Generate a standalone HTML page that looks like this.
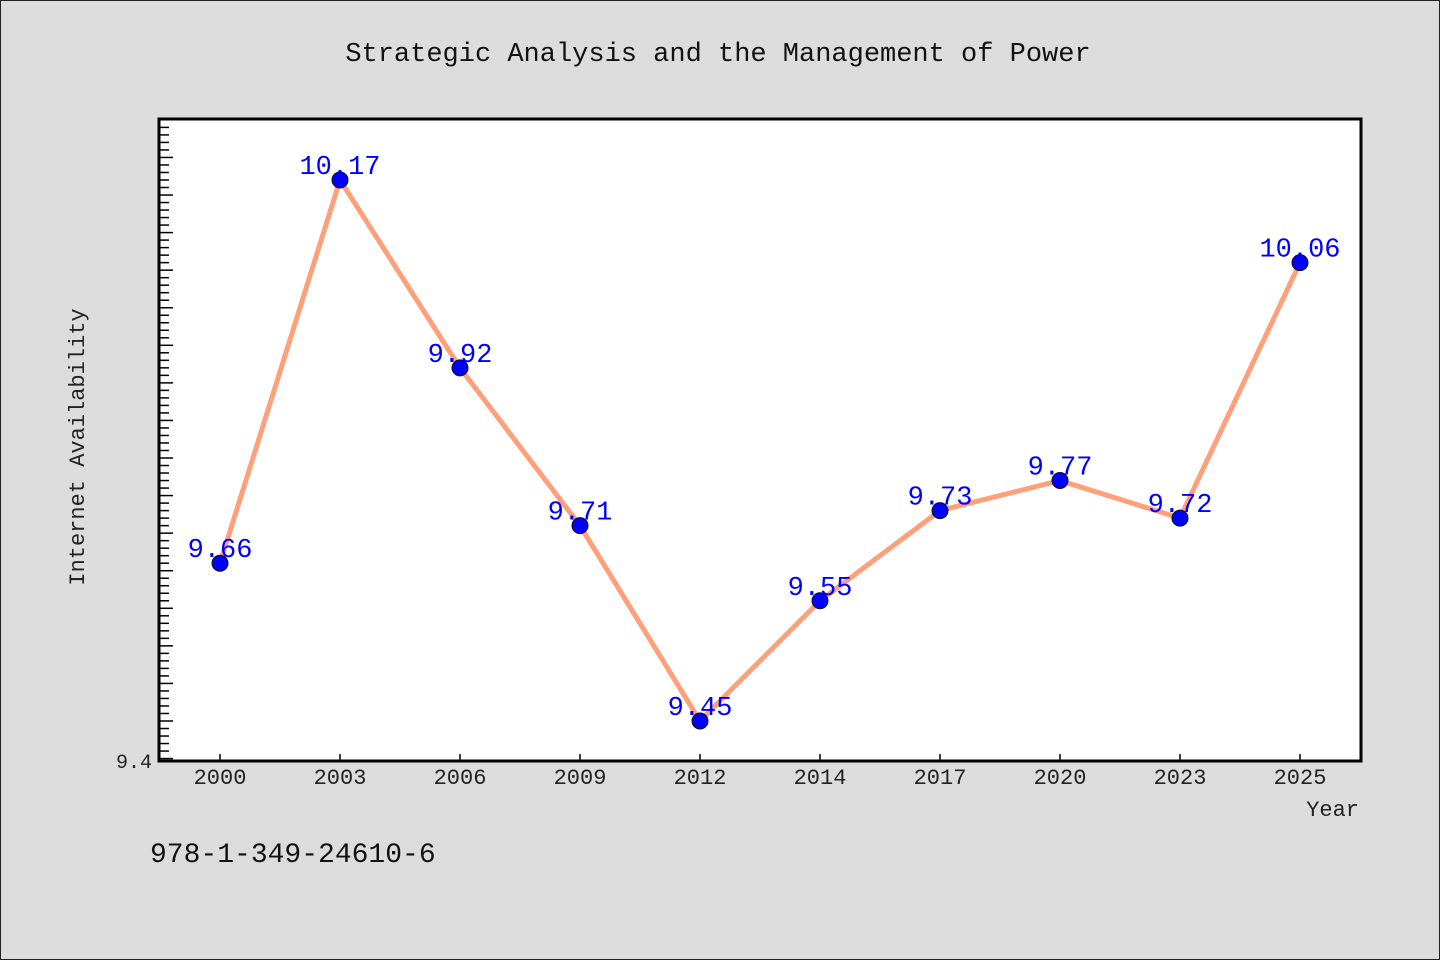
<!DOCTYPE html>
<html><head><meta charset="utf-8"><style>
body{margin:0;background:#dcdcdc}
svg{display:block}
text{font-family:"WenQuanYi Zen Hei","Liberation Mono",monospace}
</style></head><body>
<svg id="chart" width="1440" height="960" xmlns="http://www.w3.org/2000/svg">
<rect x="0.5" y="0.5" width="1439" height="959" fill="#dcdcdc" stroke="#222" stroke-width="1"/>
<text x="718" y="61" font-size="27" text-anchor="middle" fill="#111">Strategic Analysis and the Management of Power</text>
<rect x="159" y="119" width="1202" height="642" fill="#fff" stroke="#000" stroke-width="3"/>
<g id="yticks"></g>
<g id="xticks"></g>
<g id="series"></g>
<text x="152" y="768" font-size="20" text-anchor="end" fill="#222">9.4</text>
<text x="1359" y="816" font-size="22" text-anchor="end" fill="#222">Year</text>
<text transform="translate(84,447) rotate(-90)" font-size="22" text-anchor="middle" fill="#222">Internet Availability</text>
<text x="150" y="862" font-size="28" fill="#111">978-1-349-24610-6</text>
</svg>
<script>
const categories=["2000","2003","2006","2009","2012","2014","2017","2020","2023","2025"];
const values=[9.66,10.17,9.92,9.71,9.45,9.61,9.73,9.77,9.72,10.06];
const valueLabels=["9.66","10.17","9.92","9.71","9.45","9.55","9.73","9.77","9.72","10.06"];
const yMin=9.4, yMax=10.25;
const NS="http://www.w3.org/2000/svg";
function xPos(i){return 220+i*120;}
function yPos(v){return 721-(v-9.45)*751.4;}
function mk(tag,attrs,parent){const e=document.createElementNS(NS,tag);for(const k in attrs)e.setAttribute(k,attrs[k]);parent.appendChild(e);return e;}
const yt=document.getElementById('yticks');
for(let k=0;k<=85;k++){
  const v=yMin+k*0.01;const y=yPos(v);
  if(y<121)break;
  const major=(k%5===0);
  const t=mk('line',{x1:160,x2:160+(major?13:9),y1:y,y2:y,stroke:'#000','stroke-width':1.5},yt);
  
  
}
const xt=document.getElementById('xticks');
categories.forEach((c,i)=>{
  const x=xPos(i);
  const t=mk('line',{x1:x,x2:x,y1:760,y2:754,stroke:'#000','stroke-width':1.5},xt);
  
  
  const l=mk('text',{x:x,y:784,'font-size':22,'text-anchor':'middle',fill:'#222'},xt);
  l.textContent=c;
  
  
});
const s=document.getElementById('series');
const pts=values.map((v,i)=>xPos(i)+','+yPos(values[i])).join(' ');
const pl=mk('polyline',{points:pts,fill:'none',stroke:'#ffa07a','stroke-width':5,'stroke-linejoin':'round'},s);


values.forEach((v,i)=>{
  const c=mk('circle',{cx:xPos(i),cy:yPos(v),r:8,fill:'#0000ff',stroke:'#111','stroke-width':1},s);
  
  
  const t=mk('text',{x:xPos(i),y:yPos(v)-6,'font-size':27,'text-anchor':'middle',fill:'#0000ff'},s);
  t.textContent=valueLabels[i];
  
  
});
</script>
</body></html>
